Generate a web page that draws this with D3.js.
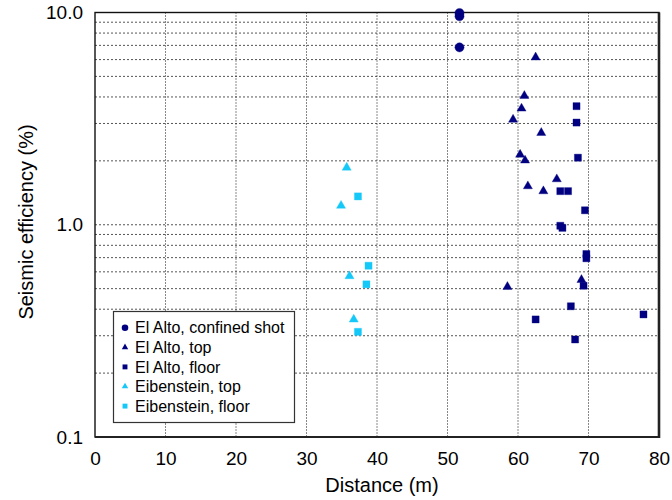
<!DOCTYPE html>
<html>
<head>
<meta charset="utf-8">
<script src="https://cdn.jsdelivr.net/npm/d3@7"></script>
<style>
  html, body { margin: 0; padding: 0; background: #fff; }
  svg { display: block; font-family: "Liberation Sans", Arial, Helvetica, sans-serif; }
</style>
</head>
<body>
<svg id="chart" width="672" height="500"></svg>
<script>
// ---------- data ----------
const seriesNames = ["El Alto, confined shot", "El Alto, top", "El Alto, floor", "Eibenstein, top", "Eibenstein, floor"];

const confinedX = [51.7, 51.7, 51.7];
const confinedY = [9.95, 9.6, 6.85];

const altoTopX = [62.5, 60.9, 60.5, 59.3, 63.3, 60.3, 61.0, 65.5, 61.4, 63.6, 58.5, 69.0];
const altoTopY = [6.15, 4.05, 3.53, 3.13, 2.71, 2.14, 2.01, 1.64, 1.52, 1.44, 0.51, 0.55];

const altoFloorX = [68.3, 68.3, 68.5, 66.0, 67.1, 69.5, 66.0, 66.3, 69.7, 69.7, 69.3, 67.5, 62.5, 77.8, 68.1];
const altoFloorY = [3.62, 3.03, 2.07, 1.44, 1.44, 1.17, 0.989, 0.967, 0.728, 0.695, 0.516, 0.413, 0.358, 0.378, 0.288];

const eibTopX = [35.7, 34.9, 36.1, 36.7];
const eibTopY = [1.86, 1.23, 0.573, 0.358];

const eibFloorX = [37.3, 38.8, 38.5, 37.3];
const eibFloorY = [1.36, 0.641, 0.524, 0.313];

const xTicks = [0, 10, 20, 30, 40, 50, 60, 70, 80];
const yTicks = [0.1, 1, 10];
const yTickLabels = ["0.1", "1.0", "10.0"];
const yGrid = [0.2, 0.3, 0.4, 0.5, 0.6, 0.7, 0.8, 0.9, 1, 2, 3, 4, 5, 6, 7, 8, 9];
const xGrid = [10, 20, 30, 40, 50, 60, 70];

// ---------- setup ----------
const navy = "#000080";
const cyan = "#14c8f8";
const series = [
  { name: seriesNames[0], xs: confinedX, ys: confinedY, shape: d3.symbolCircle, color: navy, size: 66, lsize: 34 },
  { name: seriesNames[1], xs: altoTopX, ys: altoTopY, shape: d3.symbolTriangle, color: navy, size: 36, lsize: 18 },
  { name: seriesNames[2], xs: altoFloorX, ys: altoFloorY, shape: d3.symbolSquare, color: navy, size: 50, lsize: 24 },
  { name: seriesNames[3], xs: eibTopX, ys: eibTopY, shape: d3.symbolTriangle, color: cyan, size: 36, lsize: 18 },
  { name: seriesNames[4], xs: eibFloorX, ys: eibFloorY, shape: d3.symbolSquare, color: cyan, size: 50, lsize: 24 }
];

const L = 95, R = 659, T = 12.5, B = 437;
const svg = d3.select("#chart");
const x = d3.scaleLinear().domain([0, 80]).range([L, R]);
const y = d3.scaleLog().domain([0.1, 10]).range([B, T]);

// grid
svg.append("g").selectAll("line").data(yGrid).join("line")
  .attr("x1", L).attr("x2", R)
  .attr("y1", d => y(d)).attr("y2", d => y(d))
  .attr("stroke", "#555").attr("stroke-width", 1)
  .attr("stroke-dasharray", "2,2");
svg.append("g").selectAll("line").data(xGrid).join("line")
  .attr("y1", T).attr("y2", B)
  .attr("x1", d => x(d)).attr("x2", d => x(d))
  .attr("stroke", "#111").attr("stroke-width", 1)
  .attr("stroke-dasharray", "1,2");

// frame
svg.append("rect").attr("x", L).attr("y", T).attr("width", R - L).attr("height", B - T)
  .attr("fill", "none").attr("stroke", "#111").attr("stroke-width", 1.4);
svg.append("line").attr("x1", R).attr("x2", R).attr("y1", T).attr("y2", B + 1)
  .attr("stroke", "#222").attr("stroke-width", 2.6);
svg.append("line").attr("x1", L).attr("x2", R + 1).attr("y1", B).attr("y2", B)
  .attr("stroke", "#222").attr("stroke-width", 2.2);

// axes
const xAxis = svg.append("g").attr("transform", `translate(0,${B})`)
  .call(d3.axisBottom(x).tickValues(xTicks).tickSize(0).tickPadding(15).tickFormat(d3.format("d")));
xAxis.select(".domain").remove();
xAxis.selectAll("text").attr("font-size", 19).attr("fill", "#000")
  .attr("font-family", "'Liberation Sans', Arial, sans-serif");

const yAxis = svg.append("g").attr("transform", `translate(${L},0)`)
  .call(d3.axisLeft(y).tickValues(yTicks).tickSize(0).tickPadding(12)
    .tickFormat((d, i) => yTickLabels[yTicks.indexOf(d)]));
yAxis.select(".domain").remove();
yAxis.selectAll("text").attr("font-size", 19).attr("fill", "#000")
  .attr("font-family", "'Liberation Sans', Arial, sans-serif");

// axis titles
svg.append("text").attr("x", 382).attr("y", 492).attr("text-anchor", "middle")
  .attr("font-size", 20).attr("fill", "#000").text("Distance (m)");
svg.append("text").attr("transform", "translate(33,222) rotate(-90)").attr("text-anchor", "middle")
  .attr("font-size", 20).attr("fill", "#000").text("Seismic efficiency (%)");

// points
series.forEach(s => {
  const pts = s.xs.map((v, i) => [v, s.ys[i]]);
  svg.append("g").selectAll("path").data(pts).join("path")
    .attr("transform", d => `translate(${x(d[0])},${y(d[1])})`)
    .attr("d", d3.symbol().type(s.shape).size(s.size))
    .attr("fill", s.color)
    .attr("stroke", s.color).attr("stroke-opacity", 0.35).attr("stroke-width", 1);
});

// legend
const lg = svg.append("g");
lg.append("rect").attr("x", 113.5).attr("y", 311.5).attr("width", 181).attr("height", 111)
  .attr("fill", "#fff").attr("stroke", "#333").attr("stroke-width", 1.2);
series.forEach((s, i) => {
  const cy = 327.7 + i * 19.6;
  lg.append("path").attr("transform", `translate(125,${cy})`)
    .attr("d", d3.symbol().type(s.shape).size(s.lsize)).attr("fill", s.color);
  lg.append("text").attr("x", 135).attr("y", cy).attr("dy", "0.36em")
    .attr("font-size", 16).attr("fill", "#000").text(s.name);
});
</script>
</body>
</html>
